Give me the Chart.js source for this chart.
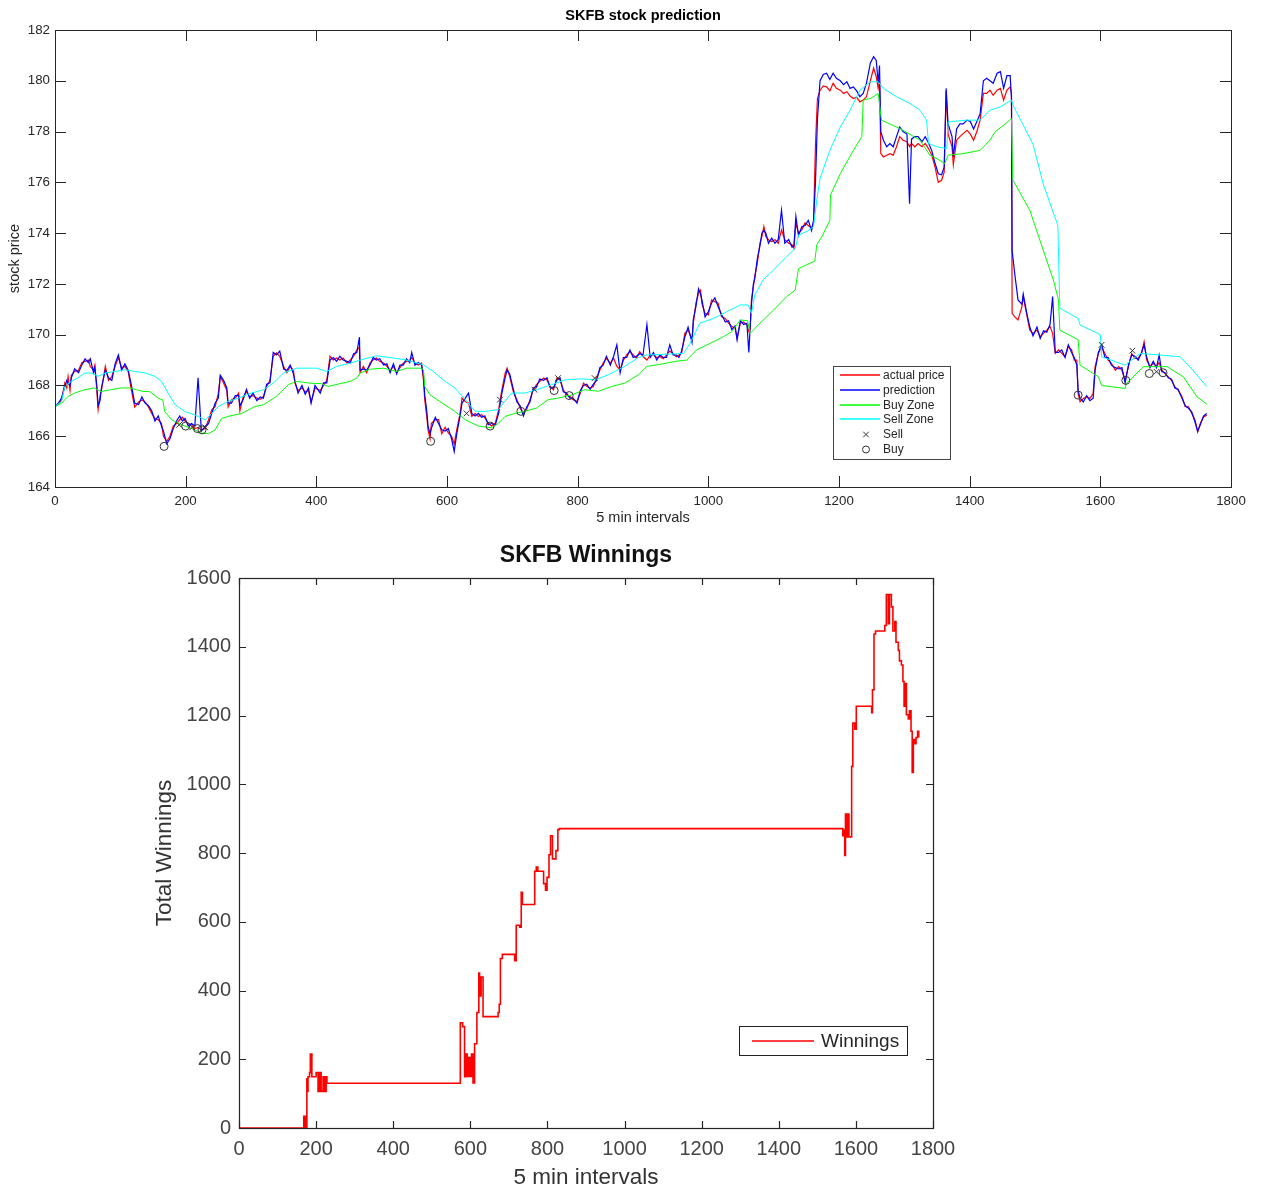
<!DOCTYPE html>
<html><head><meta charset="utf-8">
<script src="https://cdn.jsdelivr.net/npm/chart.js@4.4.0/dist/chart.umd.min.js"></script>
<style>
html,body{margin:0;padding:0;background:#fff;}
#wrap{position:relative;width:1263px;height:1191px;overflow:hidden;}
#c1{position:absolute;left:0;top:0;}
#c2{position:absolute;left:0;top:530px;}
</style></head><body>
<div id="wrap"><canvas id="c1" width="1263" height="530"></canvas><canvas id="c2" width="1263" height="661"></canvas></div>
<script>
// ---------- DATA ----------
const intervalTicks = [0,200,400,600,800,1000,1200,1400,1600,1800];
const priceTicks = [164,166,168,170,172,174,176,178,180,182];
const winTicks = [0,200,400,600,800,1000,1200,1400,1600];

const priceT = [
0,5,10,15,18,20,23,25,30,36,
41,46,51,54,59,61,64,66,69,71,
77,82,87,92,97,102,107,112,117,122,
128,133,138,143,148,153,158,163,166,171,
176,181,186,191,195,199,204,209,214,219,
224,230,235,240,245,250,253,258,263,265,
270,276,281,283,288,293,298,303,309,314,
319,324,329,334,339,344,350,355,360,365,
367,372,378,383,388,392,398,406,411,416,
421,426,431,436,441,447,452,457,462,466,
467,472,477,482,487,492,497,503,508,513,
518,523,528,533,538,543,546,551,556,561,
564,566,569,571,574,576,582,587,592,597,
602,607,611,615,620,623,628,633,638,643,
648,653,658,663,668,674,679,684,689,692,
696,702,707,712,717,722,727,732,737,742,
748,753,758,763,768,773,778,783,788,793,
799,804,809,814,819,824,829,834,839,844,
850,855,860,865,870,875,880,885,890,895,
900,906,911,916,921,926,931,936,941,946,
951,955,959,964,969,975,977,981,985,988,
990,995,1000,1005,1010,1015,1020,1026,1031,1036,
1041,1044,1049,1054,1059,1062,1064,1066,1069,1071,
1075,1079,1082,1085,1088,1092,1097,1102,1107,1112,
1117,1123,1128,1131,1134,1138,1143,1148,1153,1158,
1161,1164,1167,1171,1176,1181,1186,1191,1196,1202,
1207,1212,1217,1222,1227,1232,1237,1242,1248,1253,
1257,1260,1262,1264,1268,1273,1278,1283,1288,1293,
1298,1304,1308,1311,1316,1321,1327,1332,1337,1342,
1347,1352,1357,1361,1364,1367,1373,1375,1380,1385,
1390,1396,1401,1406,1411,1416,1421,1426,1431,1436,
1442,1447,1452,1457,1462,1464,1465,1469,1474,1480,
1482,1487,1492,1497,1503,1508,1513,1518,1523,1527,
1531,1536,1541,1546,1551,1556,1560,1564,1566,1569,
1574,1579,1584,1589,1592,1597,1602,1607,1612,1617,
1623,1628,1633,1638,1643,1648,1653,1658,1663,1667,
1671,1676,1681,1686,1690,1694,1699,1704,1709,1714,
1719,1725,1730,1735,1740,1745,1749,1753,1758,1763
];
const actualPrice = [
167.2,167.25,167.43,168.1,167.9,168.35,167.8,168.4,168.55,168.6,
168.9,168.95,169.0,168.75,168.6,168.8,167.8,167.05,167.6,167.8,
168.75,168.2,168.35,168.75,169.1,168.7,168.75,168.55,167.8,167.15,
167.35,167.43,167.35,167.15,166.9,166.7,166.65,166.5,166.0,165.8,
166.0,166.4,166.5,166.65,166.75,166.6,166.5,166.45,166.3,166.35,
166.25,166.3,166.65,167.05,167.15,167.7,168.35,168.1,167.8,167.15,
167.43,167.5,167.7,167.0,167.55,167.75,167.55,167.6,167.5,167.45,
167.57,167.96,168.2,169.15,169.28,169.15,168.75,168.5,168.75,168.6,
168.1,167.8,167.9,167.75,167.8,167.35,167.9,167.8,168.0,168.2,
169.15,169.0,169.08,169.0,169.08,168.88,169.0,169.15,169.4,169.5,
168.5,168.75,168.5,168.88,169.0,169.08,168.95,168.88,168.75,168.6,
168.75,168.5,168.7,168.88,168.95,169.0,169.1,168.88,168.8,168.88,
168.2,167.43,166.78,166.25,165.9,166.5,166.65,166.65,166.1,166.35,
166.13,166.0,165.7,166.26,166.9,167.5,167.37,167.3,166.78,166.9,
166.78,166.85,166.72,166.52,166.4,166.52,167.05,167.83,168.48,168.68,
168.35,167.7,167.44,167.11,166.9,167.05,167.44,167.83,168.03,168.16,
168.29,168.22,167.96,167.83,168.29,168.22,167.83,167.63,167.57,167.44,
167.37,167.7,168.09,167.96,167.9,167.96,168.29,168.61,168.88,169.07,
168.88,169.07,168.75,168.61,169.0,169.2,169.33,169.2,169.07,169.33,
169.14,169.0,169.2,169.2,169.1,169.13,169.05,169.2,169.35,169.26,
169.13,169.2,169.26,170.05,170.18,169.8,170.45,171.24,171.63,171.75,
171.24,170.84,170.78,171.37,171.3,171.24,170.71,170.64,170.45,170.32,
170.25,169.86,170.45,170.5,170.38,170.12,170.2,171.37,171.9,172.29,
172.82,173.6,173.87,174.26,173.87,173.74,173.67,173.74,173.6,174.13,
173.74,173.6,173.54,173.4,174.4,174.0,174.13,174.4,174.3,174.2,
174.4,177.5,179.3,179.63,179.8,179.76,179.6,179.9,179.7,179.63,
179.5,179.57,179.4,179.3,179.35,179.17,179.24,179.37,180.0,180.5,
180.16,179.7,180.0,177.13,177.0,177.07,177.13,177.07,177.4,177.8,
177.66,177.6,177.4,177.53,177.4,177.53,177.4,177.53,177.33,177.07,
176.6,176.0,176.08,176.4,179.6,177.9,177.4,176.7,177.66,177.8,
177.92,178.05,177.9,177.66,178.0,178.45,179.5,179.5,179.63,179.43,
179.63,179.7,179.24,179.63,179.76,179.5,170.84,170.7,170.58,171.1,
171.5,170.84,170.18,170.05,170.18,169.92,170.05,170.18,170.32,170.05,
169.26,169.4,169.26,169.13,169.53,169.4,169.0,169.0,167.68,167.36,
167.49,167.55,167.49,167.68,168.74,169.26,169.53,169.26,169.0,168.87,
168.6,168.74,168.6,168.2,168.74,169.26,169.07,169.07,169.26,169.72,
169.0,168.74,168.87,168.74,168.9,168.6,168.47,168.34,168.2,167.95,
167.82,167.55,167.16,167.16,166.9,166.63,166.17,166.5,166.76,166.83
];
const predictedPrice = [
167.15,167.3,167.5,167.95,168.2,168.1,168.0,168.3,168.65,168.5,
168.8,169.05,168.9,169.05,168.5,168.7,168.0,167.2,167.4,167.9,
168.6,168.3,168.2,168.85,169.2,168.6,168.85,168.6,168.0,167.3,
167.25,167.55,167.3,167.2,167.0,166.6,166.8,166.4,166.2,165.7,
165.9,166.3,166.6,166.8,166.6,166.7,166.4,166.5,166.4,168.3,
166.2,166.4,166.5,166.9,167.3,167.5,168.4,168.2,167.9,167.3,
167.3,167.6,167.6,167.2,167.45,167.85,167.5,167.7,167.4,167.55,
167.5,168.05,168.1,169.3,169.2,169.35,168.65,168.6,168.8,168.45,
168.2,167.7,168.0,167.65,167.9,167.3,168.0,167.7,168.1,168.1,
169.0,169.1,168.95,169.15,169.0,168.95,168.9,169.25,169.3,169.9,
168.6,168.65,168.6,168.8,169.1,169.0,169.05,168.8,168.85,168.5,
168.85,168.45,168.8,168.8,169.05,168.9,169.3,168.8,168.9,168.8,
168.4,167.6,167.0,166.4,166.1,166.3,166.75,166.5,166.25,166.2,
166.3,165.9,165.4,166.1,166.8,167.3,167.5,167.7,166.9,166.8,
166.9,166.75,166.8,166.45,166.5,166.45,166.9,167.7,168.3,168.6,
168.45,167.8,167.35,167.2,166.8,167.15,167.35,167.9,167.95,168.25,
168.2,168.3,167.9,167.9,168.2,168.3,167.75,167.7,167.5,167.5,
167.3,167.8,168.0,168.05,167.85,168.05,168.2,168.7,168.8,169.15,
168.8,169.15,169.6,168.5,169.1,169.1,169.4,169.1,169.15,169.25,
169.2,170.4,169.1,169.3,169.0,169.2,169.1,169.1,169.6,169.2,
169.2,169.1,169.35,169.9,170.3,169.7,170.6,171.1,171.8,171.6,
171.4,170.7,170.9,171.25,171.45,171.1,170.8,170.5,170.55,170.2,
170.35,169.8,170.55,170.4,170.45,169.3,170.3,171.2,172.0,172.2,
173.0,173.5,174.0,174.1,174.0,173.6,173.8,173.6,173.75,174.9,
173.6,173.75,173.45,173.5,174.66,173.9,174.25,174.3,174.5,174.1,
174.5,176.0,178.5,180.0,180.25,180.3,180.05,180.3,180.1,180.0,
179.85,179.96,179.7,179.76,179.6,179.37,179.5,179.9,180.7,180.95,
180.8,179.9,180.6,178.0,177.66,177.4,177.53,177.4,177.8,178.18,
178.0,177.9,175.16,177.7,177.8,177.8,177.6,177.8,177.55,177.25,
176.75,176.34,176.3,176.6,179.7,178.3,177.8,177.0,178.1,178.3,
178.3,178.45,178.4,178.1,178.4,178.7,180.0,180.1,180.0,179.9,
180.3,180.36,179.7,180.2,180.2,179.3,173.3,172.4,171.37,171.2,
171.6,170.9,170.3,169.95,170.3,169.85,170.15,170.1,170.4,171.5,
169.3,169.3,169.4,169.1,169.6,169.3,169.1,168.8,167.8,167.5,
167.35,167.6,167.4,167.5,168.6,169.3,169.6,169.1,169.1,168.8,
168.7,168.65,168.7,168.1,168.8,169.2,169.15,169.0,169.3,169.6,
169.1,168.7,168.95,168.7,169.2,168.55,168.5,168.3,168.25,167.9,
167.85,167.5,167.2,167.1,166.95,166.55,166.2,166.45,166.8,166.9
];
const buyZoneT = [
0,10,20,30,45,60,70,85,100,115,
125,135,145,158,165,168,179,194,214,224,
235,245,255,265,286,306,319,339,357,370,
390,408,418,436,452,462,467,482,503,523,
538,559,564,566,574,589,605,612,628,638,
648,668,679,689,704,719,737,755,770,791,
811,832,852,872,893,906,930,950,967,982,
1003,1023,1036,1049,1060,1064,1079,1100,1120,1133,
1138,1150,1163,1166,1174,1186,1187,1202,1222,1235,
1237,1248,1260,1265,1293,1324,1339,1350,1362,1367,
1390,1416,1431,1439,1452,1464,1466,1492,1528,1536,
1538,1566,1569,1597,1602,1638,1640,1666,1702,1727,
1748,1763
];
const buyZone = [
167.17,167.3,167.57,167.7,167.83,167.9,167.76,167.83,167.9,167.9,
167.83,167.76,167.76,167.5,167.43,166.97,166.64,166.45,166.25,166.12,
166.1,166.25,166.7,166.78,166.9,167.17,167.24,167.57,168.03,168.16,
168.09,168.07,167.96,168.07,168.16,168.29,168.49,168.64,168.68,168.55,
168.68,168.68,168.62,167.96,167.63,167.37,167.1,166.98,166.65,166.52,
166.4,166.33,166.52,166.78,166.9,166.98,167.11,167.44,167.5,167.63,
167.83,167.77,167.96,168.09,168.42,168.75,168.85,168.95,169.0,169.4,
169.66,169.92,170.12,170.58,170.55,170.05,170.45,170.97,171.5,171.76,
172.6,172.75,172.9,173.54,173.87,174.5,175.5,176.34,177.26,177.8,
179.24,179.3,179.5,178.45,178.12,177.66,177.07,176.93,176.74,177.07,
177.13,177.26,177.66,177.99,178.25,178.51,176.1,174.9,172.16,171.37,
170.18,169.8,168.8,168.34,168.0,167.88,168.08,168.74,168.74,168.34,
167.55,167.26
];
const sellZoneT = [
0,10,15,25,35,46,56,66,77,92,
107,122,138,153,163,173,184,199,214,230,
240,250,265,281,298,319,334,350,370,400,
416,431,452,467,492,518,538,564,579,597,
612,628,643,658,679,686,699,719,737,760,
781,806,827,847,872,893,906,926,962,972,
987,1008,1028,1049,1061,1066,1071,1084,1100,1120,
1133,1138,1151,1161,1166,1171,1186,1202,1217,1232,
1248,1260,1268,1288,1309,1324,1334,1337,1350,1365,
1367,1396,1416,1431,1447,1464,1467,1497,1513,1535,
1538,1566,1569,1600,1602,1638,1661,1691,1722,1737,
1763
];
const sellZone = [
167.17,167.37,167.96,168.16,168.3,168.49,168.49,168.36,168.49,168.55,
168.62,168.55,168.49,168.36,168.16,167.7,167.24,166.97,166.84,166.64,
166.9,167.17,167.37,167.5,167.68,167.83,168.09,168.49,168.68,168.68,
168.55,168.75,168.88,169.0,169.17,169.08,169.0,168.81,168.55,168.16,
167.9,167.44,166.98,166.98,167.05,167.3,167.7,167.7,167.83,168.03,
168.22,168.26,168.22,168.42,168.75,169.1,169.2,169.22,169.26,169.66,
170.45,170.64,170.9,171.17,171.17,170.84,171.56,172.16,172.55,173.08,
173.4,173.93,174.07,174.26,175.3,176.15,177.26,178.18,178.84,179.63,
179.96,179.96,179.7,179.37,179.1,178.84,178.45,177.53,177.4,177.33,
178.38,178.45,178.45,178.84,178.97,179.24,179.0,177.5,175.9,174.3,
171.04,170.64,170.38,170.0,169.13,168.8,169.26,169.2,169.13,168.74,
167.95
];
const sellT = [190,210,230,630,681,734,770,826,1602,1649,1686];
const sellPrice = [166.45,166.35,166.35,166.9,167.44,167.83,168.29,168.29,169.6,169.37,168.54];
const buyT = [167,200,218,225,575,666,713,764,787,1566,1639,1675,1696];
const buyPrice = [165.6,166.4,166.3,166.25,165.8,166.4,166.98,167.8,167.6,167.62,168.2,168.47,168.5];

const winT = [0,166,168,170,172,175,176,178,179,183,185,189,196,200,205,209,213,218,222,226,
228,574,580,585,589,592,596,599,603,607,611,617,622,624,628,633,672,675,678,683,
715,719,728,732,735,767,771,775,790,795,799,804,808,813,819,822,827,831,1566,1569,
1571,1573,1576,1579,1582,1589,1592,1597,1601,1641,1643,1647,1651,1675,1679,1684,1687,1692,1696,1701,
1704,1710,1713,1718,1722,1725,1729,1731,1736,1739,1743,1746,1749,1753,1756,1760,1763];
const winnings = [0,0,34,0,34,0,143,106,149,161,215,149,149,161,106,161,106,149,106,149,
130,306,295,149,215,150,205,150,215,131,245,336,451,384,439,324,336,360,493,505,
487,590,584,686,650,747,759,747,711,692,729,795,850,783,783,807,868,871,850,867,
793,913,847,913,847,1052,1178,1160,1227,1208,1275,1437,1446,1462,1552,1467,1552,1516,1446,1473,
1413,1389,1359,1347,1299,1227,1293,1202,1190,1214,1154,1034,1130,1118,1136,1154,1136];

// ---------- HELPERS ----------
const FONT = "'Liberation Sans', Arial, Helvetica, sans-serif";
function zip(t, v) { const n = Math.min(t.length, v.length); const out = []; for (let i = 0; i < n; i++) out.push({x: t[i], y: v[i]}); return out; }
function fixedTicks(arr) { return s => { s.ticks = arr.map(v => ({value: v})); }; }

function makeAxesPlugin(cfg) {
  return {
    id: 'matlabAxes',
    afterDatasetsDraw(chart) {
      const {ctx, chartArea: a, scales} = chart;
      ctx.save();
      ctx.strokeStyle = cfg.color; ctx.lineWidth = cfg.width;
      ctx.beginPath();
      const L = cfg.len;
      scales.x.ticks.forEach(t => {
        const px = Math.round(scales.x.getPixelForValue(t.value)) + 0.5;
        ctx.moveTo(px, a.bottom); ctx.lineTo(px, a.bottom - L);
        ctx.moveTo(px, a.top); ctx.lineTo(px, a.top + L);
      });
      scales.y.ticks.forEach(t => {
        const py = Math.round(scales.y.getPixelForValue(t.value)) + 0.5;
        ctx.moveTo(a.left, py); ctx.lineTo(a.left + L, py);
        ctx.moveTo(a.right, py); ctx.lineTo(a.right - L, py);
      });
      ctx.stroke();
      ctx.strokeRect(Math.round(a.left) + 0.5, Math.round(a.top) + 0.5, Math.round(a.right - a.left), Math.round(a.bottom - a.top));
      ctx.restore();
    }
  };
}

function makeLegendPlugin(o) {
  return {
    id: 'boxLegend',
    afterDraw(chart) {
      const {ctx, chartArea: a} = chart;
      const x0 = Math.round(a.right - o.right - o.width), y0 = Math.round(a.bottom - o.bottom - o.height);
      ctx.save();
      ctx.fillStyle = '#fff'; ctx.fillRect(x0, y0, o.width, o.height);
      ctx.strokeStyle = o.borderColor; ctx.lineWidth = 1; ctx.strokeRect(x0 + 0.5, y0 + 0.5, o.width, o.height);
      ctx.font = o.font; ctx.textBaseline = 'middle'; ctx.textAlign = 'left';
      o.items.forEach((idx, i) => {
        const ds = chart.data.datasets[idx];
        const cy = Math.round(y0 + o.firstRow + i * o.rowHeight);
        ctx.strokeStyle = ds.borderColor;
        ctx.beginPath();
        if (ds.showLine === false) {
          const cx = x0 + o.markerX, my = cy + 0.5; ctx.lineWidth = 1;
          if (ds.pointStyle === 'crossRot') {
            const r = o.crossR;
            ctx.moveTo(cx - r, my - r); ctx.lineTo(cx + r, my + r);
            ctx.moveTo(cx + r, my - r); ctx.lineTo(cx - r, my + r);
          } else {
            ctx.arc(cx, my, o.circleR, 0, Math.PI * 2);
          }
        } else {
          ctx.lineWidth = o.lineWidth;
          ctx.moveTo(x0 + o.lineX0, cy); ctx.lineTo(x0 + o.lineX1, cy);
        }
        ctx.stroke();
        ctx.fillStyle = o.color;
        ctx.fillText(ds.label, x0 + o.textX, cy + 0.5);
      });
      ctx.restore();
    }
  };
}

// ---------- CHART 1 ----------
new Chart(document.getElementById('c1'), {
  type: 'line',
  data: { datasets: [
    {label: 'actual price', data: zip(priceT, actualPrice), borderColor: '#ff0000', backgroundColor: 'rgba(0,0,0,0)', borderWidth: 1.2, pointRadius: 0, pointHoverRadius: 0, order: 6},
    {label: 'prediction', data: zip(priceT, predictedPrice), borderColor: '#0000ff', backgroundColor: 'rgba(0,0,0,0)', borderWidth: 1.2, pointRadius: 0, pointHoverRadius: 0, order: 5},
    {label: 'Buy Zone', data: zip(buyZoneT, buyZone), borderColor: '#00ff00', backgroundColor: 'rgba(0,0,0,0)', borderWidth: 1, pointRadius: 0, pointHoverRadius: 0, order: 4},
    {label: 'Sell Zone', data: zip(sellZoneT, sellZone), borderColor: '#00ffff', backgroundColor: 'rgba(0,0,0,0)', borderWidth: 1, pointRadius: 0, pointHoverRadius: 0, order: 3},
    {label: 'Sell', data: zip(sellT, sellPrice), showLine: false, pointStyle: 'crossRot', pointRadius: 4, pointBorderWidth: 1, borderColor: '#333333', backgroundColor: 'rgba(0,0,0,0)', order: 2},
    {label: 'Buy', data: zip(buyT, buyPrice), showLine: false, pointStyle: 'circle', pointRadius: 4, pointBorderWidth: 1, borderColor: '#333333', backgroundColor: 'rgba(0,0,0,0)', order: 1}
  ]},
  options: {
    responsive: false, animation: false, devicePixelRatio: 1,
    layout: {padding: {left: 0, right: 32, top: 0, bottom: 0}},
    elements: {line: {tension: 0}},
    events: [],
    plugins: {
      legend: {display: false}, tooltip: {enabled: false},
      title: {display: true, text: 'SKFB stock prediction', fullSize: false, color: '#000',
        font: {family: FONT, size: 14.5, weight: 'bold'}, padding: {top: 7.3, bottom: 5.3}}
    },
    scales: {
      x: {type: 'linear', min: 0, max: 1800, afterBuildTicks: fixedTicks(intervalTicks),
        afterFit: s => { s.height = 43; },
        grid: {display: false, drawTicks: false}, border: {display: false},
        ticks: {font: {family: FONT, size: 13.3}, color: '#262626', padding: 6, maxRotation: 0, autoSkip: false, callback: v => String(v)},
        title: {display: true, text: '5 min intervals', color: '#262626', font: {family: FONT, size: 14.5}, padding: {top: 0, bottom: 3.3}}},
      y: {type: 'linear', min: 164, max: 182, afterBuildTicks: fixedTicks(priceTicks),
        afterFit: s => { s.width = 55; },
        grid: {display: false, drawTicks: false}, border: {display: false},
        ticks: {font: {family: FONT, size: 13.3}, color: '#262626', padding: 5, autoSkip: false, callback: v => String(v)},
        title: {display: true, text: 'stock price', color: '#262626', font: {family: FONT, size: 14.5}, padding: {top: 6.3, bottom: 0}}}
    }
  },
  plugins: [
    makeAxesPlugin({color: '#262626', len: 11, width: 1}),
    makeLegendPlugin({right: 281, bottom: 28, width: 117, height: 93, firstRow: 9, rowHeight: 14.75,
      lineX0: 7, lineX1: 47, lineWidth: 1.4, markerX: 33, crossR: 2.8, circleR: 3.5, textX: 50,
      font: '12px ' + FONT, color: '#262626', borderColor: '#444444', items: [0, 1, 2, 3, 4, 5]})
  ]
});

// ---------- CHART 2 ----------
new Chart(document.getElementById('c2'), {
  type: 'line',
  data: { datasets: [
    {label: 'Winnings', data: zip(winT, winnings), borderColor: '#ff0000', backgroundColor: 'rgba(0,0,0,0)', borderWidth: 1.6, pointRadius: 0, pointHoverRadius: 0, stepped: 'before'}
  ]},
  options: {
    responsive: false, animation: false, devicePixelRatio: 1,
    layout: {padding: {left: 0, right: 330, top: 0, bottom: 0}},
    events: [],
    plugins: {
      legend: {display: false}, tooltip: {enabled: false},
      title: {display: true, text: 'SKFB Winnings', fullSize: false, color: '#111',
        font: {family: FONT, size: 23, weight: 'bold'}, padding: {top: 12.2, bottom: 8.2}}
    },
    scales: {
      x: {type: 'linear', min: 0, max: 1800, afterBuildTicks: fixedTicks(intervalTicks),
        afterFit: s => { s.height = 63; },
        grid: {display: false, drawTicks: false}, border: {display: false},
        ticks: {font: {family: FONT, size: 20}, color: '#444', padding: 9, maxRotation: 0, autoSkip: false, callback: v => String(v)},
        title: {display: true, text: '5 min intervals', color: '#333', font: {family: FONT, size: 22.5}, padding: {top: 0, bottom: 0}}},
      y: {type: 'linear', min: 0, max: 1600, afterBuildTicks: fixedTicks(winTicks),
        afterFit: s => { s.width = 239; },
        grid: {display: false, drawTicks: false}, border: {display: false},
        ticks: {font: {family: FONT, size: 20}, color: '#444', padding: 8, autoSkip: false, callback: v => String(v)},
        title: {display: true, text: 'Total Winnings', color: '#333', font: {family: FONT, size: 22.5}, padding: {top: 151.5, bottom: 0}}}
    }
  },
  plugins: [
    makeAxesPlugin({color: '#262626', len: 7, width: 1.2}),
    makeLegendPlugin({right: 26, bottom: 73, width: 168, height: 29, firstRow: 14.5, rowHeight: 0,
      lineX0: 13, lineX1: 75, lineWidth: 1.6, markerX: 40, crossR: 3, circleR: 4, textX: 82,
      font: '19px ' + FONT, color: '#262626', borderColor: '#222222', items: [0]})
  ]
});
</script>
</body></html>
